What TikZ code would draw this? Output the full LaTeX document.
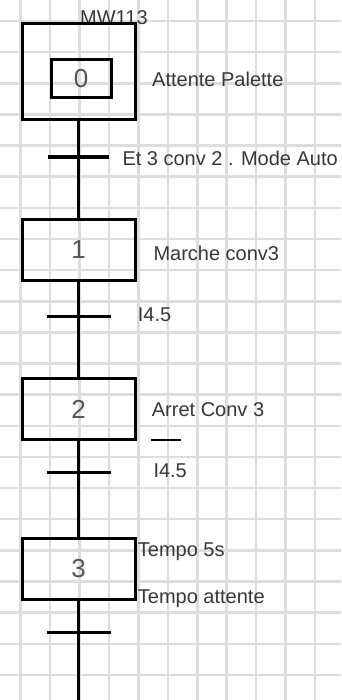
\documentclass[tikz,border=0pt]{standalone}
\usepackage{fontspec}
\setmainfont{Liberation Sans}
\definecolor{gridgray}{RGB}{221,221,221}
\definecolor{labelgray}{RGB}{55,55,55}
\definecolor{numgray}{RGB}{85,85,85}

\begin{document}
\begin{tikzpicture}[x=1pt, y=-1pt,
  stepbox/.style={draw, line width=3pt, minimum width=113pt, minimum height=60.5pt,
    inner sep=0pt, font=\fontsize{26}{26}\selectfont, text=numgray},
  trbar/.style={fill=black, minimum width=64pt, minimum height=3.3pt, inner sep=0pt, outer sep=0pt},
  link/.style={line width=3pt},
  lbl/.style={anchor=base west, inner sep=0pt, font=\fontsize{20}{22}\selectfont, text=labelgray}]
\useasboundingbox (0,0) rectangle (341,700);
% draw grid
\foreach \i in {0,...,10}
\draw[gridgray, line width=2.5pt] (20.7+29.43*\i,0) -- (20.7+29.43*\i,700);
\foreach \j in {0,...,21}
\draw[gridgray, line width=2.5pt] (0,21+31.14*\j) -- (341,21+31.14*\j);

% initial step
\node[lbl] (mw) at (80,25) {MW113};
\node[stepbox, minimum height=96pt] (step0) at (78.5,72) {};
\node[stepbox, minimum width=60pt, minimum height=38pt] (step0in) at (81,79) {0};
% steps
\node[stepbox] (step1) at (78.5,250) {1};
\node[stepbox] (step2) at (78.5,409) {2};
\node[stepbox] (step3) at (78.5,569) {3};
% transitions
\node[trbar, minimum width=61pt] (tr1) at (78.5,157) {};
\node[trbar] (tr2) at (78.5,316.3) {};
\node[trbar] (tr3) at (78.5,472.7) {};
\node[trbar] (tr4) at (78.5,632.3) {};
\coordinate (end) at (78.5,702);

% links
\draw[link] (step0) -- (tr1) -- (step1);
\draw[link] (step1) -- (tr2) -- (step2);
\draw[link] (step2) -- (tr3) -- (step3);
\draw[link] (step3) -- (tr4) -- (end);
\draw[line width=2.7pt] (151,440) -- (181,440);

% actions and receptivities
\node[lbl] (act0) at (152,87) {Attente Palette};
\node[lbl] (rc1) at (122.3,166) {Et 3 conv 2 . Mode Auto};
\node[lbl] (act1) at (153.3,260.7) {Marche conv3};
\node[lbl] (rc2) at (137.7,321.7) {I4.5};
\node[lbl] (act2) at (151.7,416.7) {Arret Conv 3};
\node[lbl] (rc3) at (153.3,477.3) {I4.5};
\node[lbl] (act3a) at (137.7,556) {Tempo 5s};
\node[lbl] (act3b) at (137.7,603) {Tempo attente};
\end{tikzpicture}
\end{document}
